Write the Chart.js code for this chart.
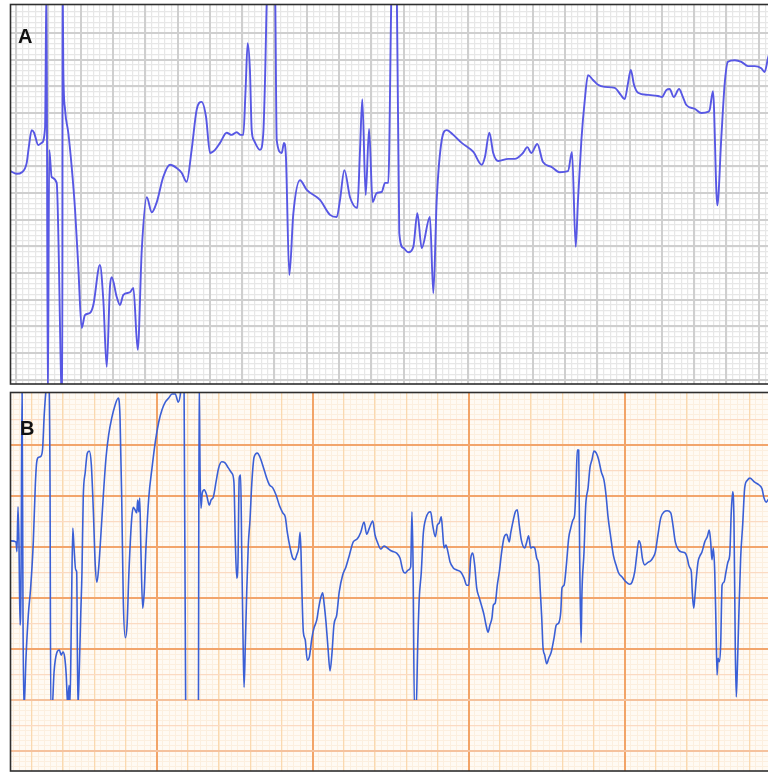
<!DOCTYPE html>
<html><head><meta charset="utf-8">
<script src="https://cdn.jsdelivr.net/npm/chart.js@4.4.1/dist/chart.umd.min.js"></script>
<style>
html,body{margin:0;padding:0;background:#fff;overflow:hidden;width:768px;height:772px}
#wrap{position:relative;width:768px;height:772px;overflow:hidden}
canvas{position:absolute;left:0}
#cA{top:0}
#cB{top:388px}
</style></head><body>
<div id="wrap"><canvas id="cA" width="800" height="388"></canvas><canvas id="cB" width="800" height="384"></canvas></div>
<script>
// ---- Panel A: time (ms) and amplitude (mV) ----
const aTimeMs = [
0,38,71,100,115,131,146,172,193,214,
223,231,240,255,286,321,323,327,338,358,
379,400,420,441,461,492,513,554,575,596,
616,627,658,678,699,740,761,788,813,844,
875,906,946,988,1029,1060,1091,1122,1153,1184,
1211,1236,1267,1298,1339,1370,1401,1426,1442,1456,
1469,1483,1494,1508,1545,1566,1576,1591,1614,1638,
1649,1680,1694,1706,1727,1752,1793,1835,1917,1979,
2021,2041,2068,2103,2148,2165,2179,2200,2221,2243,
2268,2299,2320,2340,2361,2375,2392,2408,2433,2464,
2495,2520,2547,2598,2619,2640,2671,2702,2743,2795,
2867,2919,2939,2966,2990,3021,3083,3123,3174,3201,
3226,3263,3298,3350,3402,3453,3478,3501,3515,3536,
3557,3577,3608,3639,3680,3742,3780,3804,3825,3842,
3862,3887,3949,4011,4035,4062,4083,4108,4141,4165,
4186,4238,4279,4320,4331,4351,4378,4403,4424,4444,
4486,4527,4568,4610,4650,4671,4692,4717];
const aMilliVolts = [
0.41,0.36,0.39,0.56,0.90,1.18,1.13,0.90,0.94,1.22,
4.0,-4.0,0.81,0.30,0.19,-4.0,4.0,2.36,1.56,1.13,
0.49,-0.32,-1.39,-2.53,-2.29,-2.25,-2.10,-1.35,-2.01,-3.26,
-1.76,-1.58,-1.95,-2.10,-1.91,-1.86,-1.78,-2.94,-1.07,-0.08,
-0.36,-0.17,0.30,0.53,0.47,0.38,0.21,0.81,1.56,1.71,
1.43,0.75,0.81,0.94,1.13,1.09,1.14,1.09,1.09,1.93,
2.81,2.31,1.18,0.99,0.81,1.13,2.06,4.0,4.5,4.0,
0.99,0.75,0.94,0.68,-1.54,-0.38,0.24,0.06,-0.13,-0.41,
-0.45,-0.13,0.43,-0.08,-0.28,0.81,1.76,-0.04,1.20,-0.17,
0.00,0.02,0.19,0.19,4.0,4.5,4.0,-0.75,-1.03,-1.11,
-1.01,-0.38,-1.03,-0.45,-1.88,-0.13,0.99,1.18,1.09,0.94,
0.77,0.53,0.68,1.13,0.75,0.60,0.64,0.64,0.75,0.86,
0.75,0.92,0.58,0.49,0.39,0.41,0.77,-1.01,-0.13,0.99,
1.74,2.21,2.12,2.03,1.99,1.97,1.84,1.76,2.06,2.31,
2.03,1.88,1.84,1.82,1.80,1.93,1.95,1.80,1.95,1.80,
1.65,1.58,1.50,1.52,1.56,1.91,-0.23,1.05,2.06,2.46,
2.49,2.46,2.38,2.38,2.34,2.27,2.53,2.78];

// ---- Panel B: time (ms) and amplitude (mV) ----
const bTimeMs = [
63,98,104,111,117,124,130,137,143,149,
162,177,192,209,222,231,244,258,269,279,
295,308,316,321,329,342,359,376,388,399,
410,420,429,438,444,453,462,470,481,487,
495,504,513,521,529,542,555,568,581,594,
606,617,628,641,658,675,692,712,733,754,
765,776,786,799,810,822,840,850,861,872,
878,885,891,899,910,920,931,949,970,991,
1013,1034,1055,1077,1098,1119,1138,1151,1161,1175,
1186,1226,1267,1272,1278,1284,1292,1305,1320,1337,
1348,1363,1380,1397,1417,1438,1459,1481,1495,1504,
1513,1521,1529,1538,1545,1554,1560,1568,1577,1587,
1598,1609,1624,1645,1662,1683,1705,1722,1744,1765,
1786,1808,1824,1837,1854,1872,1886,1897,1910,1919,
1925,1931,1940,1952,1965,1978,1995,2008,2026,2038,
2051,2064,2072,2085,2098,2111,2124,2136,2154,2170,
2192,2213,2235,2260,2286,2308,2329,2346,2363,2385,
2399,2414,2436,2457,2478,2506,2538,2560,2577,2592,
2613,2628,2636,2643,2652,2663,2673,2683,2696,2709,
2726,2741,2756,2769,2786,2799,2811,2824,2833,2842,
2854,2867,2880,2901,2923,2949,2970,2987,3000,3013,
3026,3038,3051,3068,3085,3098,3111,3124,3136,3149,
3158,3170,3183,3196,3211,3226,3243,3260,3269,3279,
3299,3311,3324,3337,3359,3372,3384,3397,3410,3423,
3436,3449,3459,3468,3476,3487,3500,3513,3529,3547,
3561,3577,3590,3598,3611,3626,3641,3654,3668,3679,
3688,3696,3705,3711,3720,3726,3739,3750,3765,3777,
3790,3803,3818,3833,3850,3867,3880,3893,3910,3927,
3944,3961,3983,4010,4032,4047,4064,4077,4090,4102,
4113,4128,4145,4167,4183,4196,4213,4231,4252,4273,
4295,4309,4324,4346,4367,4388,4401,4410,4418,4427,
4433,4442,4449,4459,4470,4481,4495,4513,4529,4542,
4551,4559,4568,4577,4585,4592,4598,4606,4615,4624,
4636,4649,4662,4673,4683,4692,4700,4709,4715,4722,
4731,4743,4756,4769,4786,4803,4833,4859,4880,4893,
4907,4918,4944];
const bMilliVolts = [
2.12,2.10,1.91,2.79,2.10,0.47,1.25,5.2,0.61,-1.2,
-0.18,0.67,1.20,2.10,3.22,3.67,3.76,3.78,3.94,4.59,
5.2,5.3,3.35,-1.2,-1.2,-0.45,-0.08,-0.02,-0.12,-0.06,
-0.16,-0.51,-1.1,-0.71,-1.1,0.61,2.37,1.98,1.55,1.51,
-1.15,-0.37,0.67,1.51,2.96,3.47,3.84,3.88,3.61,2.69,
1.65,1.31,1.59,2.18,3.02,3.75,4.20,4.53,4.78,4.92,
4.53,2.88,0.92,0.22,0.47,1.51,2.57,2.78,2.73,2.67,
2.92,2.69,2.96,1.90,0.80,1.12,1.98,2.96,3.55,4.06,
4.45,4.69,4.84,4.92,5.00,5.00,4.84,4.98,5.3,5.3,
-1.3,-1.6,-1.3,5.3,3.47,2.76,3.06,3.12,3.02,2.82,
2.92,2.98,3.27,3.55,3.67,3.65,3.55,3.45,3.27,2.10,
1.39,1.71,3.35,3.41,1.90,0.08,-0.75,0.08,1.12,2.04,
2.53,3.22,3.76,3.84,3.76,3.57,3.35,3.22,3.16,3.02,
2.82,2.67,2.59,2.29,2.00,1.78,1.75,1.84,1.98,2.29,
1.90,1.12,0.33,0.18,-0.22,-0.16,0.22,0.41,0.57,0.80,
1.00,1.10,0.92,0.53,0.02,-0.43,-0.06,0.47,0.67,1.12,
1.45,1.61,1.84,2.10,2.16,2.29,2.49,2.25,2.37,2.51,
2.24,2.10,1.96,2.02,1.98,1.92,1.88,1.78,1.55,1.49,
1.55,1.61,2.69,1.71,-1.2,-1.2,0.08,1.00,1.51,2.27,
2.57,2.67,2.69,2.43,2.20,2.43,2.47,2.59,2.29,1.98,
2.04,1.90,1.71,1.59,1.55,1.51,1.39,1.25,1.25,1.78,
1.88,1.65,1.20,1.00,0.82,0.67,0.47,0.33,0.47,0.61,
0.86,0.90,1.25,1.51,1.90,2.18,2.25,2.10,2.27,2.43,
2.69,2.73,2.43,2.14,1.98,2.10,2.22,1.98,2.00,1.98,
1.78,1.65,1.12,0.61,0.04,-0.12,-0.29,-0.18,-0.06,0.22,
0.47,0.51,0.73,1.20,1.25,1.65,2.18,2.37,2.53,2.63,
3.22,3.90,3.90,1.90,0.12,1.12,1.90,2.82,3.16,3.55,
3.71,3.88,3.84,3.71,3.47,3.31,3.02,2.59,2.20,1.84,
1.65,1.49,1.41,1.31,1.27,1.31,1.51,1.84,2.12,2.04,
1.78,1.65,1.69,1.73,1.80,1.90,2.24,2.57,2.69,2.71,
2.67,2.43,2.10,1.94,1.90,1.88,1.78,1.65,1.59,1.51,
1.12,0.80,1.00,1.39,1.71,1.82,1.90,2.10,2.20,2.33,
2.10,1.75,1.98,1.51,0.47,-0.51,-0.18,-0.25,0.08,1.25,
1.31,1.51,1.71,1.84,2.69,3.08,2.57,-0.06,-0.94,-0.37,
0.61,1.78,2.43,3.16,3.31,3.35,3.27,3.22,3.14,2.96,
2.88,2.92,3.02];

const panelLabels = ['A', 'B'];
const B_FLOOR_MV = -1.0;   // lower recording limit of trace B

// ---------------------------------------------------------------
function toPoints(xs, ys) { return xs.map((x, i) => ({ x: x, y: ys[i] })); }

function gridAxis(axis, min, max, step, phase, color, width, z) {
  return {
    type: 'linear', axis: axis, position: axis === 'x' ? 'bottom' : 'left',
    min: min, max: max, bounds: 'data', display: true,
    ticks: { display: false, autoSkip: false },
    border: { display: false },
    grid: {
      drawTicks: false, z: z, lineWidth: width,
      color: (ctx) => {
        if (!ctx.tick) return 'rgba(0,0,0,0)';
        const s = ctx.scale, a = ctx.chart.chartArea;
        const p = s.getPixelForValue(ctx.tick.value);
        if (axis === 'y' && (p - a.top < 2.2 || a.bottom - p < 2.2)) return 'rgba(0,0,0,0)';
        if (axis === 'x' && (p - a.left < 2.2)) return 'rgba(0,0,0,0)';
        return typeof color === 'function' ? color(ctx.tick.value) : color;
      }
    },
    afterBuildTicks: (s) => {
      const t = [];
      const k0 = Math.ceil((min - phase) / step - 1e-9);
      for (let k = k0; phase + k * step <= max + 1e-9; k++) t.push({ value: +(phase + k * step).toFixed(6) });
      s.ticks = t;
    }
  };
}

function framePlugin(label, labelX, labelY, bg) {
  return {
    id: 'frame' + label,
    beforeDraw(chart) {
      if (!bg) return;
      const a = chart.chartArea, c = chart.ctx;
      c.save(); c.fillStyle = bg; c.fillRect(a.left, a.top, a.right - a.left, a.bottom - a.top); c.restore();
    },
    afterDraw(chart) {
      const a = chart.chartArea, c = chart.ctx;
      c.save();
      c.strokeStyle = '#2e2e2e'; c.lineWidth = 1.6;
      c.strokeRect(a.left, a.top, a.right - a.left, a.bottom - a.top);
      c.fillStyle = '#111';
      c.font = 'bold 20px "Liberation Sans", Arial, sans-serif';
      c.textBaseline = 'alphabetic';
      c.fillText(label, labelX, labelY);
      c.restore();
    }
  };
}

const floorClip = {
  id: 'floorClip',
  beforeDatasetsDraw(chart) {
    const a = chart.chartArea, c = chart.ctx;
    const yb = chart.scales.y.getPixelForValue(B_FLOOR_MV);
    c.save(); c.beginPath(); c.rect(a.left, a.top - 1, a.right - a.left, yb - a.top + 1); c.clip();
  },
  afterDatasetsDraw(chart) { chart.ctx.restore(); }
};

Chart.defaults.devicePixelRatio = 1;

// Panel A ranges (ms, mV)
const aXmin = 0, aXmax = 4772.5, aYmin = -3.581, aYmax = 3.535, aPhase = 34.8;
new Chart(document.getElementById('cA'), {
  type: 'line',
  data: { datasets: [{
    data: toPoints(aTimeMs, aMilliVolts),
    borderColor: '#5757e4', borderWidth: 1.9, pointRadius: 0,
    cubicInterpolationMode: 'monotone', fill: false, borderJoinStyle: 'round'
  }]},
  options: {
    responsive: false, animation: false, parsing: false, events: [],
    layout: { autoPadding: false, padding: { left: 10.5, top: 4.5, right: 19, bottom: 4 } },
    plugins: { legend: { display: false }, tooltip: { enabled: false }, title: { display: false } },
    scales: {
      xMinor: gridAxis('x', aXmin, aXmax, 40, aPhase, '#e7e7e7', 1.2, -4),
      yMinor: gridAxis('y', aYmin, aYmax, 0.1, 0, '#e7e7e7', 1.2, -3),
      x: gridAxis('x', aXmin, aXmax, 200, aPhase, '#cfcfcf', 2, -2),
      y: gridAxis('y', aYmin, aYmax, 0.5, 0, '#cfcfcf', 2, -1)
    }
  },
  plugins: [framePlugin(panelLabels[0], 18, 42.7, null)]
});

// Panel B ranges (ms, mV)
const bXmin = 62.8, bXmax = 5001.7, bYmin = -2.392, bYmax = 5.029;
new Chart(document.getElementById('cB'), {
  type: 'line',
  data: { datasets: [{
    data: toPoints(bTimeMs, bMilliVolts),
    borderColor: '#3a5fd6', borderWidth: 1.6, pointRadius: 0,
    cubicInterpolationMode: 'monotone', fill: false, borderJoinStyle: 'round'
  }]},
  options: {
    responsive: false, animation: false, parsing: false, events: [],
    layout: { autoPadding: false, padding: { left: 10.5, top: 4.5, right: 19, bottom: 1 } },
    plugins: { legend: { display: false }, tooltip: { enabled: false }, title: { display: false } },
    scales: {
      xMinor: gridAxis('x', bXmin, bXmax, 40, 0, '#fcefdf', 1, -6),
      yMinor: gridAxis('y', bYmin, bYmax, 0.1, 0, '#fcefdf', 1, -5),
      xMid: gridAxis('x', bXmin, bXmax, 200, 0, '#fad9b0', 1.3, -4),
      yMid: gridAxis('y', bYmin, bYmax, 0.5, 0, '#fbdac2', 1.3, -3),
      x: gridAxis('x', bXmin, bXmax, 1000, 0, '#f2a468', 2, -2),
      y: gridAxis('y', bYmin, bYmax, 1, 0, (v) => v >= 0 ? '#f2a56c' : '#f5c29e', 2, -1)
    }
  },
  plugins: [framePlugin(panelLabels[1], 20, 47, '#fffaf3'), floorClip]
});
</script>
</body></html>
